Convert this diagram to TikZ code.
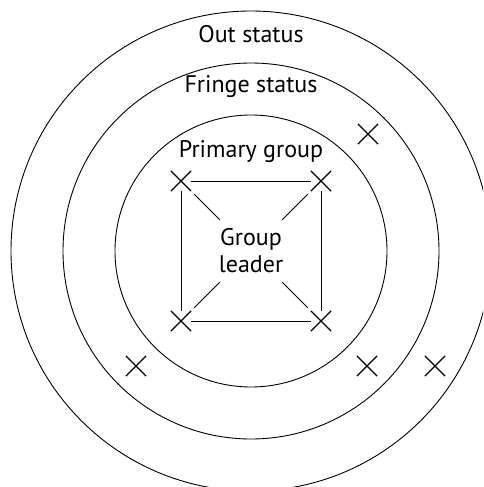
\documentclass[tikz,border=0pt]{standalone}
\usepackage{fontspec}
\setmainfont{PT Sans}
\usetikzlibrary{shapes.misc}

\begin{document}
\begin{tikzpicture}[x = 1pt, y = -1pt, font = \fontsize{24}{27}\selectfont,
  xmark/.style = {cross out, draw, minimum size = 19pt, inner sep = 0pt, line width = 1.2pt},
  ring/.style = {line width = 0.9pt}]
\useasboundingbox (0,0) rectangle (483,487);
\clip (0,0) rectangle (483,487);
\coordinate (c) at (251,251);
\foreach \r in {240,188,136}
{
\draw[ring] (c) circle (\r pt);
}
\node (out) at (251,34) {Out status};
\node (fringe) at (251,87) {Fringe status};
\node (primary) at (251,152) {Primary group};
\node[circle, minimum size = 88pt, inner sep = 0pt, align = center] (leader) at (c) {Group\\leader};
% primary group members
\node[xmark] (tl) at (181,181) {};
\node[xmark] (tr) at (321,181) {};
\node[xmark] (bl) at (181,321) {};
\node[xmark] (br) at (321,321) {};
\draw[line width = 1pt] (tl) -- (tr) -- (br) -- (bl) -- (tl);
\foreach \n in {tl,tr,bl,br}
{
\draw[line width = 0.9pt, shorten <= 4.5pt] (\n) -- (leader);
}
% fringe and out members
\node[xmark] (f1) at (368,134) {};
\node[xmark] (f2) at (136,366) {};
\node[xmark] (f3) at (367,366) {};
\node[xmark] (o1) at (435,366) {};
\end{tikzpicture}
\end{document}
